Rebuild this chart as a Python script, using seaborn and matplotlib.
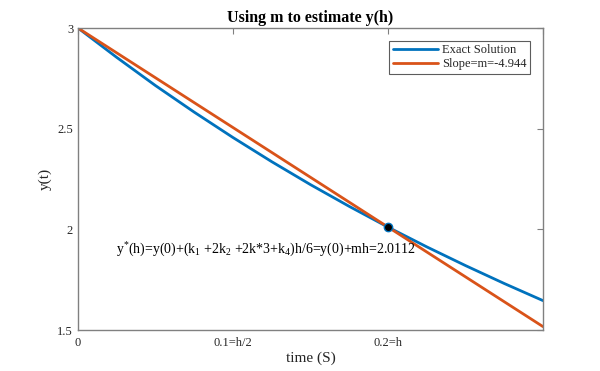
import numpy as np
import pandas as pd
import matplotlib
matplotlib.use('Agg')
import matplotlib.pyplot as plt
import seaborn as sns

# values
t_exact = [0.0, 0.025, 0.05, 0.075, 0.1, 0.125, 0.15, 0.175, 0.2, 0.225, 0.25, 0.275, 0.3]
y_exact = [3.000, 2.854, 2.714, 2.582, 2.456, 2.336, 2.222, 2.114, 2.011, 1.913, 1.820, 1.731, 1.646]
t_slope = [0.0, 0.3]
y_slope = [3.0, 1.5168]
pt_t = [0.2]
pt_y = [2.0112]
xticks = [0, 0.1, 0.2, 0.3]
xticklabels = ['0', '0.1=h/2', '0.2=h', '']
yticks = [1.5, 2, 2.5, 3]

sns.set_style('white')
plt.rcParams['font.family'] = ['Liberation Serif', 'DejaVu Serif']
plt.rcParams['mathtext.fontset'] = 'custom'
plt.rcParams['mathtext.rm'] = 'Liberation Serif'
plt.rcParams['mathtext.it'] = 'Liberation Serif'

exact = pd.DataFrame({'t': t_exact, 'y': y_exact})
slope = pd.DataFrame({'t': t_slope, 'y': y_slope})

fig = plt.figure(figsize=(6, 3.71), dpi=100)
ax = fig.add_axes([0.13, 0.1105, 0.775, 0.814])

sns.lineplot(data=exact, x='t', y='y', color='#0072BD', linewidth=2, label='Exact Solution', ax=ax)
sns.lineplot(data=slope, x='t', y='y', color='#D95319', linewidth=2, label='Slope=m=-4.944', ax=ax)
ax.plot(pt_t, pt_y, 'o', markerfacecolor='black', markeredgecolor='#0072BD', markersize=6, zorder=5)

ax.set_xlim(0, 0.3)
ax.set_ylim(1.5, 3)
ax.set_xticks(xticks)
ax.set_xticklabels(xticklabels)
ax.set_yticks(yticks)
ax.set_yticklabels(['1.5', '2', '2.5', '3'])

gray = '#808080'
for s in ax.spines.values():
    s.set_color(gray)
    s.set_linewidth(1)
ax.tick_params(direction='in', length=4, width=0.8, color=gray, labelcolor='#262626',
               labelsize=9, top=True, right=True)
ax.tick_params(axis='x', pad=5)

ax.set_xlabel('time (S)', fontsize=11, color='#262626', labelpad=2)
ax.set_ylabel('y(t)', fontsize=11, color='#262626', labelpad=4)
ax.set_title('Using m to estimate y(h)', fontsize=11.5, fontweight='bold', color='black', pad=4)

ax.text(0.0245, 1.9,
        'y$^{*}$(h)=y(0)+(k$_{1}$ +2k$_{2}$ +2k*3+k$_{4}$)h/6=y(0)+mh=2.0112',
        fontsize=10, va='center', ha='left', color='black')

leg = ax.legend(loc='upper right', fontsize=9, frameon=True, fancybox=False,
                borderpad=0.3, handlelength=3.6, handletextpad=0.3, labelspacing=0.15,
                borderaxespad=0, bbox_to_anchor=(0.972, 0.958))
leg.get_frame().set_edgecolor('#333333')
leg.get_frame().set_linewidth(0.8)

fig.savefig('out.png', dpi=100)
